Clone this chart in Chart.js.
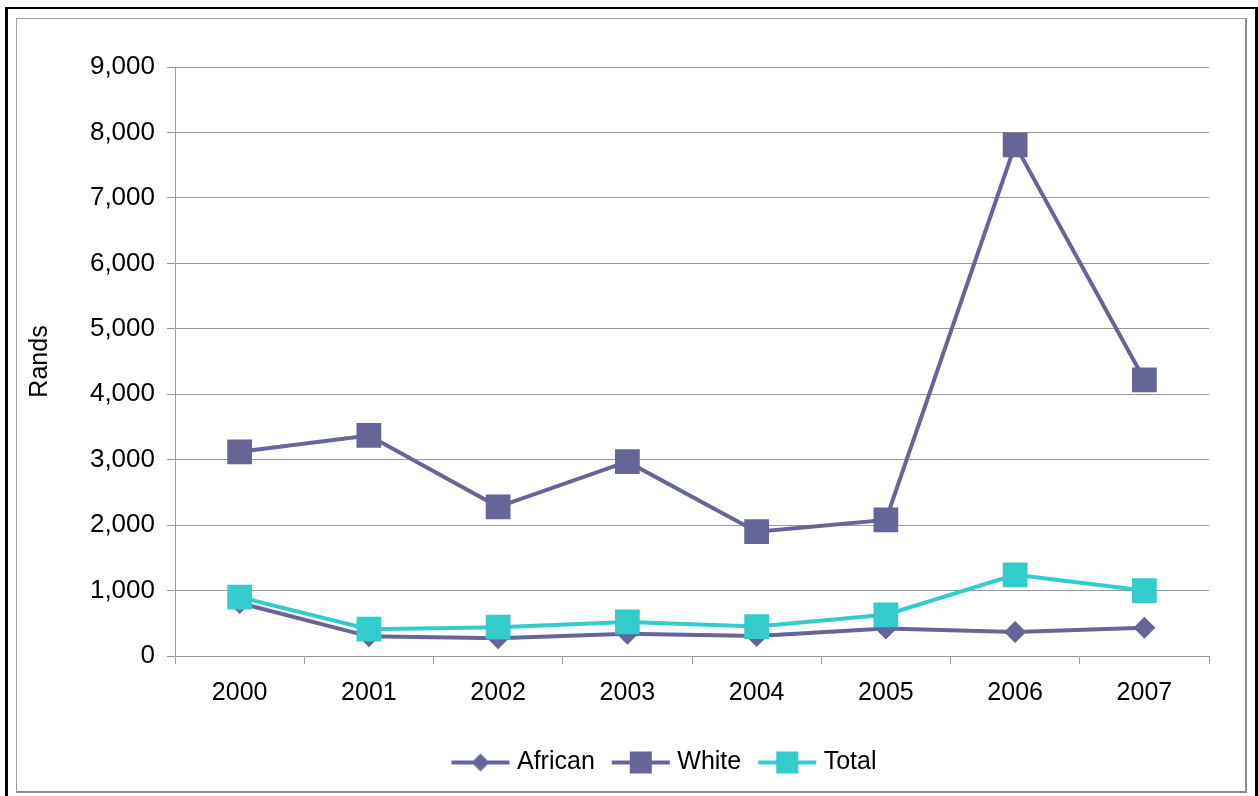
<!DOCTYPE html>
<html>
<head>
<meta charset="utf-8">
<script src="https://cdn.jsdelivr.net/npm/chart.js@4.4.1/dist/chart.umd.min.js"></script>
<style>
  body { margin: 0; background: #fff; }
  #frame { position: absolute; left: 5px; top: 7px; width: 1253px; height: 800px; box-sizing: border-box;
           border: 3px solid #000; border-top-width: 2px; border-bottom: none; }
  #inner { position: absolute; left: 16px; top: 18px; width: 1231px; height: 775px; box-sizing: border-box;
           border: 1px solid #a0a0a0; border-right: 2px solid #8c8c8c; border-bottom: 2px solid #8c8c8c; }
  #chart { position: absolute; left: 0; top: 0; }
</style>
</head>
<body>
<div id="frame"></div>
<div id="inner"></div>
<canvas id="chart" width="1258" height="796"></canvas>
<script>
// data
const years = ['2000', '2001', '2002', '2003', '2004', '2005', '2006', '2007'];
const african = [810, 300, 270, 340, 305, 420, 365, 430];
const white = [3120, 3370, 2280, 2970, 1900, 2080, 7810, 4220];
const total = [900, 410, 440, 520, 450, 630, 1240, 1000];

const purple = '#656599';
const teal = '#33cccc';
const font = "'Liberation Sans', Arial, sans-serif";

// legend swatch: line with marker in the middle
function swatch(color, shape) {
  const c = document.createElement('canvas');
  c.width = 60;
  c.height = 24;
  const g = c.getContext('2d');
  g.strokeStyle = color;
  g.lineWidth = 4;
  g.beginPath();
  g.moveTo(1, 12);
  g.lineTo(59, 12);
  g.stroke();
  g.fillStyle = color;
  if (shape == 'diamond') {
    g.beginPath();
    g.moveTo(30, 3);
    g.lineTo(39, 12);
    g.lineTo(30, 21);
    g.lineTo(21, 12);
    g.closePath();
    g.fill();
  } else {
    g.fillRect(19, 1, 22, 22);
  }
  return c;
}

const legendItems = [
  { text: 'African', pointStyle: swatch(purple, 'diamond'), datasetIndex: 0 },
  { text: 'White', pointStyle: swatch(purple, 'square'), datasetIndex: 1 },
  { text: 'Total', pointStyle: swatch(teal, 'square'), datasetIndex: 2 }
];

// the legend sits a bit right of the canvas centre
const shiftLegend = {
  id: 'shiftLegend',
  afterLayout: function (chart) {
    chart.legend.left += 62;
    chart.legend.right += 62;
  }
};

let ctx = document.getElementById('chart');
let myChart = new Chart(ctx, {
  type: 'line',
  data: {
    labels: years,
    datasets: [{
      label: 'African',
      data: african,
      borderColor: purple,
      backgroundColor: purple,
      borderWidth: 4,
      pointStyle: 'rectRot',
      pointRadius: 11,
      pointBorderWidth: 0,
      order: 2
    }, {
      label: 'White',
      data: white,
      borderColor: purple,
      backgroundColor: purple,
      borderWidth: 4,
      pointStyle: 'rect',
      pointRadius: 17.5,
      pointBorderWidth: 0,
      order: 1
    }, {
      label: 'Total',
      data: total,
      borderColor: teal,
      backgroundColor: teal,
      borderWidth: 4,
      pointStyle: 'rect',
      pointRadius: 17.5,
      pointBorderWidth: 0,
      order: 0
    }]
  },
  options: {
    responsive: false,
    animation: false,
    layout: { padding: { left: 0, right: 49, top: 67, bottom: 11 } },
    elements: { line: { tension: 0 } },
    scales: {
      x: {
        offset: true,
        grid: { offset: true, drawOnChartArea: false, color: '#999999', tickLength: 8 },
        border: { color: '#999999' },
        ticks: { color: '#000', font: { family: font, size: 25 }, padding: 14 },
        afterFit: function (scale) { scale.height = 72; }
      },
      y: {
        min: 0,
        max: 9000,
        ticks: {
          stepSize: 1000,
          color: '#000',
          font: { family: font, size: 26 },
          padding: 12,
          callback: function (v) { return v.toLocaleString('en-US'); }
        },
        grid: { color: '#999999', tickLength: 8 },
        border: { color: '#999999' },
        title: { display: true, text: 'Rands', color: '#000', font: { family: font, size: 25 }, padding: { top: 25, bottom: 0 } },
        afterFit: function (scale) { scale.width = 175; }
      }
    },
    plugins: {
      tooltip: { enabled: false },
      legend: {
        position: 'bottom',
        labels: {
          usePointStyle: true,
          pointStyleWidth: 48,
          padding: 22,
          color: '#000',
          font: { family: font, size: 25 },
          generateLabels: function () {
            return legendItems.map(function (it) {
              return { text: it.text, pointStyle: it.pointStyle, datasetIndex: it.datasetIndex, fontColor: '#000', hidden: false, lineWidth: 0 };
            });
          }
        }
      }
    }
  },
  plugins: [shiftLegend]
});
</script>
</body>
</html>
